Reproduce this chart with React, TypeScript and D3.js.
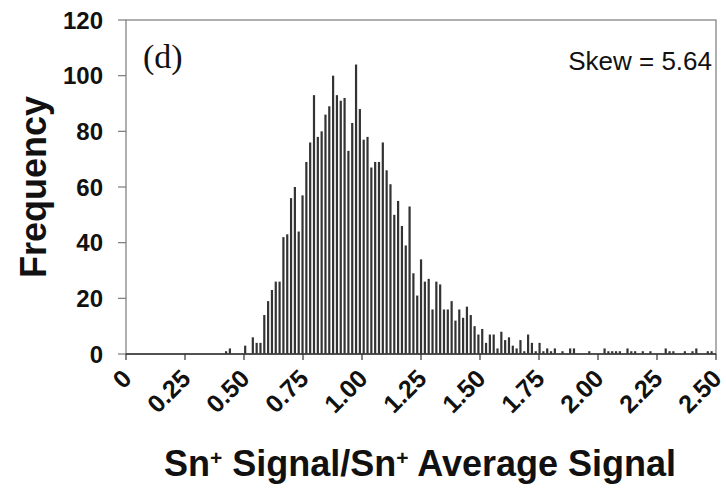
import React, { useEffect, useRef } from "react";
import * as d3 from "d3";

// Histogram counts, one per bin (bin centres start at binStart and step by binWidth)
const binStart = 0.424;
const binWidth = 0.0162;
const counts: number[] = [
  1, 2, 0, 0, 0, 3, 0, 6, 4, 4,
  14, 19, 23, 26, 26, 42, 43, 56, 60, 44,
  57, 69, 76, 93, 78, 80, 86, 89, 100, 93,
  91, 92, 73, 83, 104, 88, 77, 78, 67, 69,
  69, 76, 66, 61, 50, 55, 46, 39, 53, 29,
  21, 34, 26, 27, 16, 26, 25, 16, 16, 19,
  12, 16, 13, 17, 14, 10, 7, 9, 4, 7,
  7, 2, 8, 5, 6, 3, 2, 5, 1, 7,
  4, 1, 4, 1, 2, 1, 2, 0, 1, 0,
  2, 2, 0, 0, 0, 1, 0, 0, 0, 2,
  1, 1, 1, 1, 0, 2, 1, 1, 0, 1,
  0, 1, 0, 0, 0, 2, 1, 1, 0, 0,
  1, 0, 1, 2, 0, 0, 1, 1,
];
const xTicks: number[] = [0, 0.25, 0.5, 0.75, 1.0, 1.25, 1.5, 1.75, 2.0, 2.25, 2.5];
const xTickLabels: string[] = ["0", "0.25", "0.50", "0.75", "1.00", "1.25", "1.50", "1.75", "2.00", "2.25", "2.50"];
const yTicks: number[] = [0, 20, 40, 60, 80, 100, 120];
const panelLabel = "(d)";
const skewLabel = "Skew = 5.64";
const yTitle = "Frequency";

const W = 726;
const H = 489;
const M = { left: 126, right: 10, top: 20, bottom: 135 };

export default function App() {
  const ref = useRef<SVGSVGElement>(null);

  useEffect(() => {
    const svg = d3.select(ref.current);
    svg.selectAll("*").remove();

    const x = d3.scaleLinear().domain([0, 2.5]).range([M.left, W - M.right]);
    const y = d3.scaleLinear().domain([0, 120]).range([H - M.bottom, M.top]);
    const font = "'Liberation Sans', Arial, sans-serif";
    const frame = "#7a7a7a";

    const data = counts.map((c, i) => ({ x: binStart + i * binWidth, c }));

    // bars
    const barW = 2.2;
    svg.append("g")
      .selectAll("rect")
      .data(data.filter((d) => d.c > 0))
      .join("rect")
      .attr("x", (d) => x(d.x) - barW / 2)
      .attr("width", barW)
      .attr("y", (d) => y(d.c))
      .attr("height", (d) => y(0) - y(d.c))
      .attr("fill", "#333");

    // frame
    svg.append("rect")
      .attr("x", x(0))
      .attr("y", y(120))
      .attr("width", x(2.5) - x(0))
      .attr("height", y(0) - y(120))
      .attr("fill", "none")
      .attr("stroke", frame)
      .attr("stroke-width", 1.2);
    svg.append("line")
      .attr("x1", x(0)).attr("x2", x(2.5))
      .attr("y1", y(0)).attr("y2", y(0))
      .attr("stroke", "#333").attr("stroke-width", 1.3);

    // y axis
    const gy = svg.append("g");
    gy.selectAll("line")
      .data(yTicks)
      .join("line")
      .attr("x1", x(0) - 8).attr("x2", x(0))
      .attr("y1", (d) => y(d)).attr("y2", (d) => y(d))
      .attr("stroke", frame).attr("stroke-width", 1.2);
    gy.selectAll("text")
      .data(yTicks)
      .join("text")
      .attr("x", 103)
      .attr("y", (d) => y(d))
      .attr("dy", "0.36em")
      .attr("text-anchor", "end")
      .attr("font-family", font)
      .attr("font-weight", "bold")
      .attr("font-size", 24)
      .attr("fill", "#111")
      .text((d) => String(d));

    // x axis
    const gx = svg.append("g");
    gx.selectAll("line")
      .data(xTicks)
      .join("line")
      .attr("x1", (d) => x(d)).attr("x2", (d) => x(d))
      .attr("y1", y(0)).attr("y2", y(0) + 6)
      .attr("stroke", "#333").attr("stroke-width", 1.2);
    gx.selectAll("text")
      .data(xTicks)
      .join("text")
      .attr("transform", (d) => `translate(${x(d) + 1},${y(0) + 20}) rotate(-45)`)
      .attr("text-anchor", "end")
      .attr("dy", "0.35em")
      .attr("font-family", font)
      .attr("font-weight", "bold")
      .attr("font-size", 25)
      .attr("fill", "#111")
      .text((d, i) => xTickLabels[i]);

    // y title
    svg.append("text")
      .attr("transform", `translate(46,${(y(0) + y(120)) / 2}) rotate(-90)`)
      .attr("text-anchor", "middle")
      .attr("font-family", font)
      .attr("font-weight", "bold")
      .attr("font-size", 36)
      .attr("fill", "#111")
      .text(yTitle);

    // x title
    const xt = svg.append("text")
      .attr("x", 420)
      .attr("y", 476)
      .attr("text-anchor", "middle")
      .attr("font-family", font)
      .attr("font-weight", "bold")
      .attr("font-size", 36)
      .attr("fill", "#111");
    const parts: [string, boolean][] = [
      ["Sn", false], ["+", true], [" Signal/Sn", false], ["+", true], [" Average Signal", false],
    ];
    parts.forEach(([t, sup]) => {
      const ts = xt.append("tspan").text(t);
      if (sup) ts.attr("font-size", 21).attr("baseline-shift", "super");
    });

    // panel label
    svg.append("text")
      .attr("x", 143)
      .attr("y", 68)
      .attr("font-family", "'Liberation Serif', 'Times New Roman', serif")
      .attr("font-size", 34)
      .attr("fill", "#111")
      .text(panelLabel);

    // skew label
    svg.append("text")
      .attr("x", 712)
      .attr("y", 70)
      .attr("text-anchor", "end")
      .attr("font-family", font)
      .attr("font-size", 26)
      .attr("fill", "#111")
      .text(skewLabel);
  }, []);

  return (
    <div style={{ position: "absolute", left: 0, top: 0 }}>
      <svg ref={ref} width={W} height={H} style={{ display: "block", background: "#fff" }} />
    </div>
  );
}
